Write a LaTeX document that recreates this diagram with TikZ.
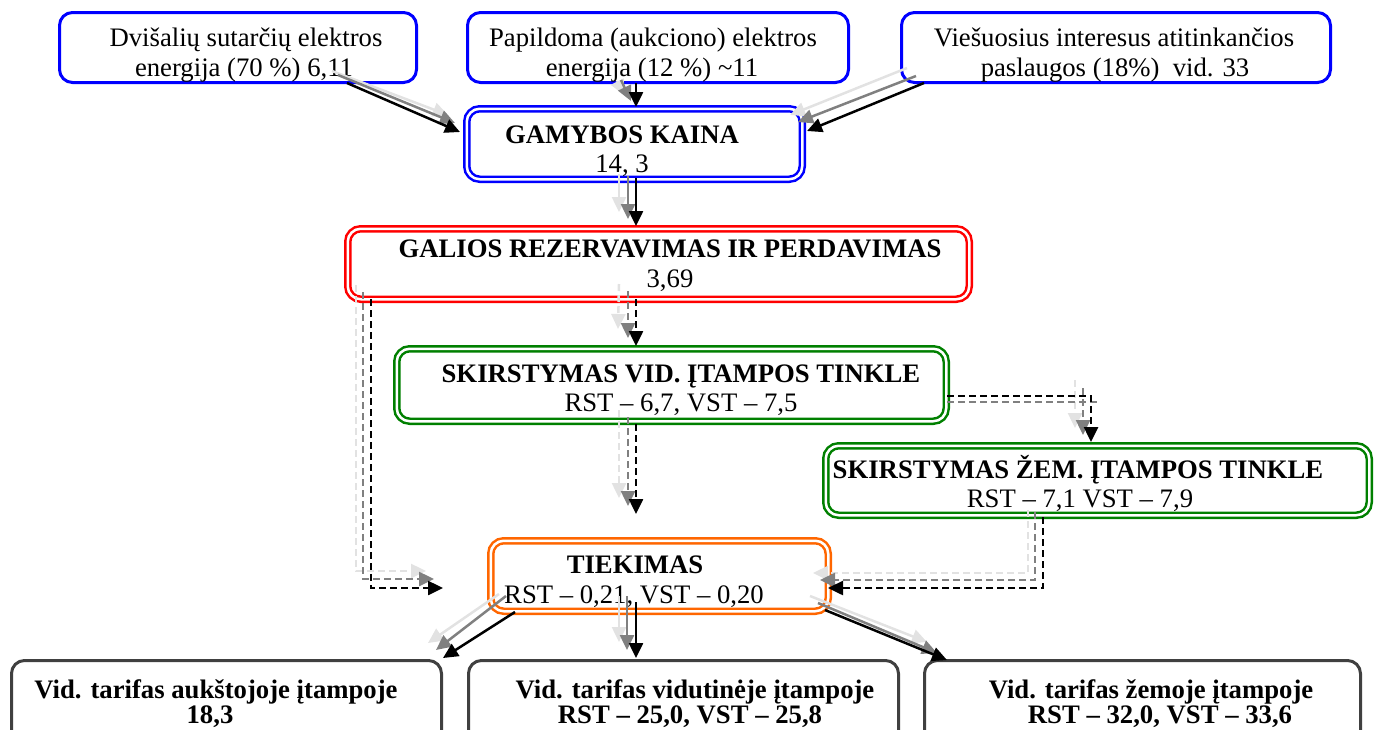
\documentclass[tikz,border=0pt]{standalone}
\usepackage{fontspec}
\setmainfont{Liberation Serif}
\usetikzlibrary{arrows.meta,fit}
\definecolor{shadeL}{HTML}{E2E2E2}
\definecolor{shadeG}{HTML}{808080}
\definecolor{boxblue}{HTML}{0000FF}
\definecolor{boxred}{HTML}{FF0000}
\definecolor{boxgreen}{HTML}{008000}
\definecolor{boxorange}{HTML}{FF6600}
\definecolor{boxgray}{HTML}{404040}
\begin{document}
\begin{tikzpicture}[x=1pt,y=-1pt,
  box/.style={draw=#1, line width=3pt, rounded corners=13pt, inner sep=0pt},
  dbox/.style={draw=#1, double=white, double distance=2.5pt, line width=2.5pt, rounded corners=13pt, inner sep=0pt},
  txt/.style={anchor=base, inner sep=0pt, font=\fontsize{26.7}{30}\selectfont},
  btxt/.style={txt, font=\fontsize{26.7}{30}\selectfont\bfseries},
  ar/.style={line width=2.5pt, -{Triangle[length=15pt,width=14pt]}},
  lite/.style={ar, color=shadeL},
  mid/.style={ar, color=shadeG},
  dark/.style={ar, color=black},
  dsh/.style={dash pattern=on 7pt off 4pt}
]
\useasboundingbox (0,0) rectangle (1374,729);

% boxes
\node[box=boxblue, fit={(59.5,12.5) (416.5,82.5)}] (src1) {};
\node[box=boxblue, fit={(467.5,12.5) (848.5,82.5)}] (src2) {};
\node[box=boxblue, fit={(901.5,12.5) (1330.5,82.5)}] (src3) {};
\node[dbox=boxblue, fit={(466.75,108.75) (802.25,179.25)}] (gam) {};
\node[dbox=boxred, fit={(347.75,228.75) (969.25,299.25)}] (gal) {};
\node[dbox=boxgreen, fit={(396.75,348.75) (946.25,421.25)}] (vid) {};
\node[dbox=boxgreen, fit={(825.75,445.75) (1369.25,515.25)}] (zem) {};
\node[dbox=boxorange, fit={(490.75,540.75) (828.25,611.25)}] (tie) {};
\node[box=boxgray, fit={(11.5,660.5) (441.5,790)}] (tarA) {};
\node[box=boxgray, fit={(468.5,660.5) (898.5,790)}] (tarB) {};
\node[box=boxgray, fit={(924.5,660.5) (1360.5,790)}] (tarC) {};

% texts
\node[txt] (src1a) at (246,46) {Dvišalių sutarčių elektros};
\node[txt] (src1b) at (244,76) {energija (70 \%) 6,11};
\node[txt] (src2a) at (653,46) {Papildoma (aukciono) elektros};
\node[txt] (src2b) at (652,76) {energija (12 \%) \textasciitilde{}11};
\node[txt] (src3a) at (1114,46) {Viešuosius interesus atitinkančios};
\node[txt] (src3b) at (1115,76) {paslaugos (18\%)\ \ vid. 33};
\node[btxt] (gama) at (622,143) {GAMYBOS KAINA};
\node[txt] (gamb) at (622,172) {14, 3};
\node[btxt] (gala) at (670,257) {GALIOS REZERVAVIMAS IR PERDAVIMAS};
\node[txt] (galb) at (670,287) {3,69};
\node[btxt] (vida) at (681,382) {SKIRSTYMAS VID. ĮTAMPOS TINKLE};
\node[txt] (vidb) at (681,411) {RST – 6,7, VST – 7,5};
\node[btxt] (zema) at (1078,478) {SKIRSTYMAS ŽEM. ĮTAMPOS TINKLE};
\node[txt] (zemb) at (1080,507) {RST – 7,1 VST – 7,9};
\node[btxt] (tiea) at (635,573) {TIEKIMAS};
\node[txt] (tieb) at (634,603) {RST – 0,21, VST – 0,20};
\node[btxt] (tarAa) at (216,698) {Vid. tarifas aukštojoje įtampoje};
\node[btxt] (tarAb) at (210,723) {18,3};
\node[btxt] (tarBa) at (695,698) {Vid. tarifas vidutinėje įtampoje};
\node[btxt] (tarBb) at (690,723) {RST – 25,0, VST – 25,8};
\node[btxt] (tarCa) at (1151,698) {Vid. tarifas žemoje įtampoje};
\node[btxt] (tarCb) at (1160,723) {RST – 32,0, VST – 33,6};

% connector end points: L = light shadow, G = grey shadow, K = black arrow
\path (332,71) coordinate (aLs) (448,115) coordinate (aLe)
      (338,75) coordinate (aGs) (455,123) coordinate (aGe)
      (347,83) coordinate (aKs) (460,132) coordinate (aKe)
      (617,81) coordinate (bLs) (624,95) coordinate (bLe)
      (621,80) coordinate (bGs) (631,101) coordinate (bGe)
      (636,83) coordinate (bKs) (636,107) coordinate (bKe)
      (907,68) coordinate (cLs) (790,115) coordinate (cLe)
      (916,76) coordinate (cGs) (798,122) coordinate (cGe)
      (924,83) coordinate (cKs) (807,131) coordinate (cKe)
      (619,174) coordinate (dLs) (619,212) coordinate (dLe)
      (628,176) coordinate (dGs) (628,219) coordinate (dGe)
      (636,178) coordinate (dKs) (636,226) coordinate (dKe)
      (619,284) coordinate (eLs) (618,329) coordinate (eLe)
      (628,291) coordinate (eGs) (628,338) coordinate (eGe)
      (636,299) coordinate (eKs) (636,346) coordinate (eKe)
      (356,285) coordinate (fLs) (426,571) coordinate (fLe)
      (363,292) coordinate (fGs) (434,579) coordinate (fGe)
      (371,299) coordinate (fKs) (443,588) coordinate (fKe)
      (619,410) coordinate (gLs) (619,498) coordinate (gLe)
      (628,417) coordinate (gGs) (628,506) coordinate (gGe)
      (636,424) coordinate (gKs) (636,514) coordinate (gKe)
      (1075,380) coordinate (hLs) (1075,428) coordinate (hLe)
      (947,402) coordinate (hGh) (1097,402) coordinate (hGk)
      (1083,388) coordinate (hGs) (1083,435) coordinate (hGe)
      (947,396) coordinate (hKs) (1091,442) coordinate (hKe)
      (1028,510) coordinate (iLs) (813,573) coordinate (iLe)
      (1035,512) coordinate (iGs) (820,580) coordinate (iGe)
      (1043,517) coordinate (iKs) (828,588) coordinate (iKe)
      (499,594) coordinate (jLs) (428,643) coordinate (jLe)
      (506,596) coordinate (jGs) (436,650) coordinate (jGe)
      (515,612) coordinate (jKs) (443,658) coordinate (jKe)
      (619,596) coordinate (kLs) (619,642) coordinate (kLe)
      (627,596) coordinate (kGs) (627,650) coordinate (kGe)
      (636,602) coordinate (kKs) (636,658) coordinate (kKe)
      (810,596) coordinate (lLs) (927,642) coordinate (lLe)
      (818,603) coordinate (lGs) (937,653) coordinate (lGe)
      (825,610) coordinate (lKs) (947,660) coordinate (lKe);

% solid arrows
\draw[lite] (aLs) -- (aLe); \draw[mid] (aGs) -- (aGe); \draw[dark] (aKs) -- (aKe);
\draw[lite] (bLs) -- (bLe); \draw[mid] (bGs) -- (bGe); \draw[dark] (bKs) -- (bKe);
\draw[lite] (cLs) -- (cLe); \draw[mid] (cGs) -- (cGe); \draw[dark] (cKs) -- (cKe);
\draw[lite] (dLs) -- (dLe); \draw[mid] (dGs) -- (dGe); \draw[dark] (dKs) -- (dKe);
\draw[lite] (jLs) -- (jLe); \draw[mid] (jGs) -- (jGe); \draw[dark] (jKs) -- (jKe);
\draw[lite] (kLs) -- (kLe); \draw[mid] (kGs) -- (kGe); \draw[dark] (kKs) -- (kKe);
\draw[lite] (lLs) -- (lLe); \draw[mid] (lGs) -- (lGe); \draw[dark] (lKs) -- (lKe);

% dashed arrows
\draw[lite,dsh] (eLs) -- (eLe); \draw[mid,dsh] (eGs) -- (eGe); \draw[dark,dsh] (eKs) -- (eKe);
\draw[lite,dsh] (fLs) |- (fLe); \draw[mid,dsh] (fGs) |- (fGe); \draw[dark,dsh] (fKs) |- (fKe);
\draw[lite,dsh] (gLs) -- (gLe); \draw[mid,dsh] (gGs) -- (gGe); \draw[dark,dsh] (gKs) -- (gKe);
\draw[lite,dsh] (hLs) -- (hLe); \draw[mid,dsh,-] (hGh) -- (hGk); \draw[mid,dsh] (hGs) -- (hGe); \draw[dark,dsh] (hKs) -| (hKe);
\draw[lite,dsh] (iLs) |- (iLe); \draw[mid,dsh] (iGs) |- (iGe); \draw[dark,dsh] (iKs) |- (iKe);
\end{tikzpicture}
\end{document}
